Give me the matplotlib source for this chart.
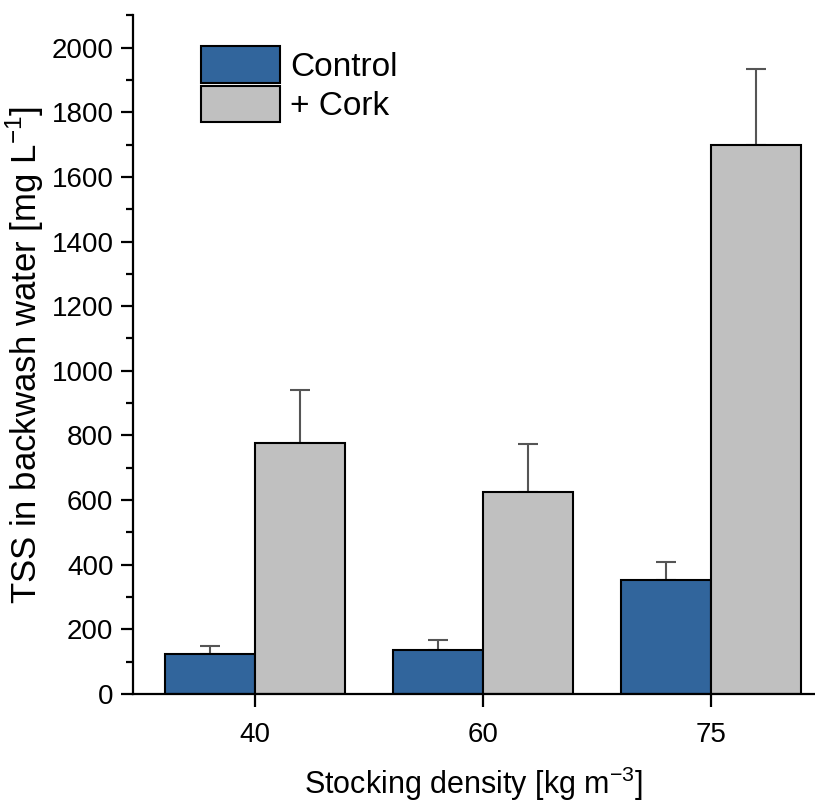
import numpy as np
import matplotlib.pyplot as plt
from matplotlib.ticker import MultipleLocator

plt.rcParams['font.family'] = ['Liberation Sans', 'DejaVu Sans']

densities = ['40', '60', '75']
controlMean = [124, 136, 352]
controlErr = [25, 31, 56]
corkMean = [776, 626, 1700]
corkErr = [164, 147, 235]
seriesNames = ['Control', '+ Cork']

fig = plt.figure(figsize=(8.15, 8.06), dpi=100)
ax = fig.add_axes([0.163, 0.139, 0.837, 0.842])

x = np.arange(len(densities))
w = 0.395
ax.bar(x - w/2, controlMean, w, color='#31659c', edgecolor='black',
       linewidth=1.5, label=seriesNames[0], zorder=2)
ax.bar(x + w/2, corkMean, w, color='#c0c0c0', edgecolor='black',
       linewidth=1.5, label=seriesNames[1], zorder=2)
ax.errorbar(x - w/2, controlMean, yerr=[np.zeros(3), controlErr], fmt='none',
            ecolor='#555555', elinewidth=1.5, capsize=7, capthick=1.5, zorder=1)
ax.errorbar(x + w/2, corkMean, yerr=[np.zeros(3), corkErr], fmt='none',
            ecolor='#555555', elinewidth=1.5, capsize=7, capthick=1.5, zorder=1)

ax.set_xlim(-0.535, 2.456)
ax.set_ylim(0, 2100)
ax.set_xticks(x)
ax.set_xticklabels(densities)
ax.yaxis.set_major_locator(MultipleLocator(200))
ax.yaxis.set_minor_locator(MultipleLocator(100))
ax.set_yticks(np.arange(0, 2001, 200))

for side in ['top', 'right']:
    ax.spines[side].set_visible(False)
for side in ['left', 'bottom']:
    ax.spines[side].set_linewidth(1.6)

ax.tick_params(axis='both', which='major', direction='out', length=9,
               width=1.6, labelsize=20, pad=5)
ax.tick_params(axis='y', which='minor', direction='out', length=5, width=1.6)
ax.tick_params(axis='x', pad=11)

ax.set_xlabel('Stocking density [kg m$^{\\mathregular{-3}}$]', fontsize=22, labelpad=12)
ax.set_ylabel('TSS in backwash water [mg L$^{\\mathregular{-1}}$]', fontsize=25, labelpad=4)

ax.legend(loc='upper left', bbox_to_anchor=(0.081, 0.974), frameon=False,
          fontsize=24, handlelength=2.35, handleheight=1.3, labelspacing=0.1,
          handletextpad=0.3, borderaxespad=0)

fig.savefig('out.png', dpi=100)
